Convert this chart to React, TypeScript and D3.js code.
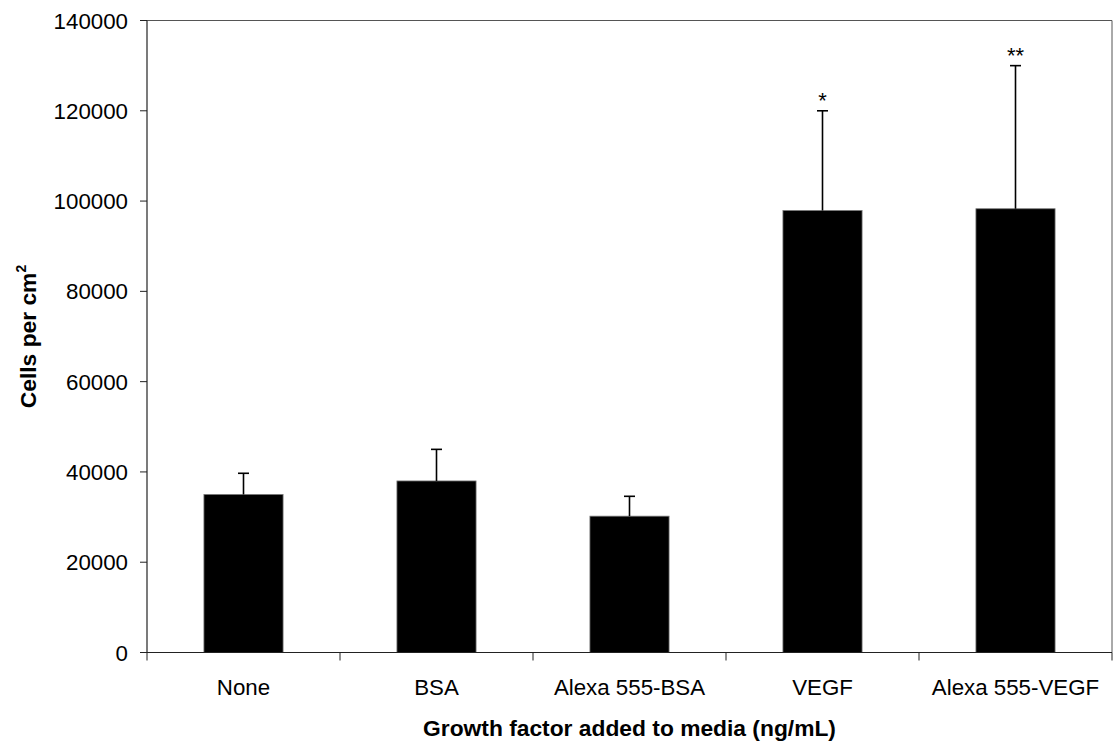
import React from "react";
import * as d3 from "d3";

const categories = ["None", "BSA", "Alexa 555-BSA", "VEGF", "Alexa 555-VEGF"];
const means = [35000, 38000, 30200, 97900, 98300];
const errors = [4700, 7000, 4400, 22100, 31700];
const marks = ["", "", "", "*", "**"];
const yTicks = [0, 20000, 40000, 60000, 80000, 100000, 120000, 140000];

const W = 1113;
const H = 745;
const left = 147;
const right = 1112;
const top = 20.5;
const bottom = 652.5;
const FONT = "'Liberation Sans', Arial, sans-serif";

export default function App() {
  const x = d3.scaleBand<string>().domain(categories).range([left, right]).padding(0);
  const y = d3.scaleLinear().domain([0, 140000]).range([bottom, top]);
  const bw = x.bandwidth() * 0.41;
  const boundaries = categories.map((c) => x(c) as number).concat([right]);

  return (
    <svg
      width={W}
      height={H}
      style={{ position: "absolute", left: 0, top: 0, background: "#fff" }}
      fontFamily={FONT}
    >
      {/* frame top and right */}
      <line x1={left} x2={right} y1={top} y2={top} stroke="#555" strokeWidth={1} />
      <line x1={right} x2={right} y1={top} y2={bottom} stroke="#555" strokeWidth={1} />

      {/* bars */}
      {categories.map((c, i) => {
        const cx = (x(c) as number) + x.bandwidth() / 2;
        return (
          <rect
            key={c}
            x={cx - bw / 2}
            y={y(means[i])}
            width={bw}
            height={bottom - y(means[i])}
            fill="#000"
            stroke="#777"
            strokeWidth={0.8}
          />
        );
      })}

      {/* error bars */}
      {categories.map((c, i) => {
        const cx = (x(c) as number) + x.bandwidth() / 2;
        const yt = y(means[i] + errors[i]);
        return (
          <g key={"e" + c} stroke="#000" strokeWidth={1.6}>
            <line x1={cx} x2={cx} y1={y(means[i])} y2={yt} />
            <line x1={cx - 5.5} x2={cx + 5.5} y1={yt} y2={yt} />
          </g>
        );
      })}

      {/* significance marks */}
      {categories.map((c, i) => {
        if (!marks[i]) return null;
        const cx = (x(c) as number) + x.bandwidth() / 2;
        const yt = y(means[i] + errors[i]);
        return (
          <text
            key={"m" + c}
            x={cx}
            y={yt - 3}
            textAnchor="middle"
            fontSize={22}
            fill="#000"
          >
            {marks[i]}
          </text>
        );
      })}

      {/* y axis */}
      <line x1={left} x2={left} y1={top} y2={bottom} stroke="#222" strokeWidth={1.2} />
      {yTicks.map((t) => (
        <g key={"yt" + t}>
          <line x1={left - 7} x2={left} y1={y(t)} y2={y(t)} stroke="#222" strokeWidth={1} />
          <text x={128} y={y(t)} dy="0.36em" textAnchor="end" fontSize={22.3} fill="#000">
            {t}
          </text>
        </g>
      ))}

      {/* x axis */}
      <line x1={left - 7} x2={right} y1={bottom} y2={bottom} stroke="#222" strokeWidth={1.2} />
      {boundaries.map((b, i) => (
        <line key={"xt" + i} x1={b} x2={b} y1={bottom} y2={bottom + 8} stroke="#222" strokeWidth={1} />
      ))}
      {categories.map((c) => (
        <text
          key={"xl" + c}
          x={(x(c) as number) + x.bandwidth() / 2}
          y={695}
          textAnchor="middle"
          fontSize={22.3}
          fill="#000"
        >
          {c}
        </text>
      ))}

      {/* axis titles */}
      <text
        x={(left + right) / 2}
        y={736}
        textAnchor="middle"
        fontSize={22.8}
        fontWeight="bold"
        fill="#000"
      >
        Growth factor added to media (ng/mL)
      </text>
      <text
        transform={`translate(36, ${(top + bottom) / 2}) rotate(-90)`}
        textAnchor="middle"
        fontSize={22.8}
        fontWeight="bold"
        fill="#000"
      >
        Cells per cm
        <tspan fontSize={14} dy={-10}>2</tspan>
      </text>
    </svg>
  );
}
